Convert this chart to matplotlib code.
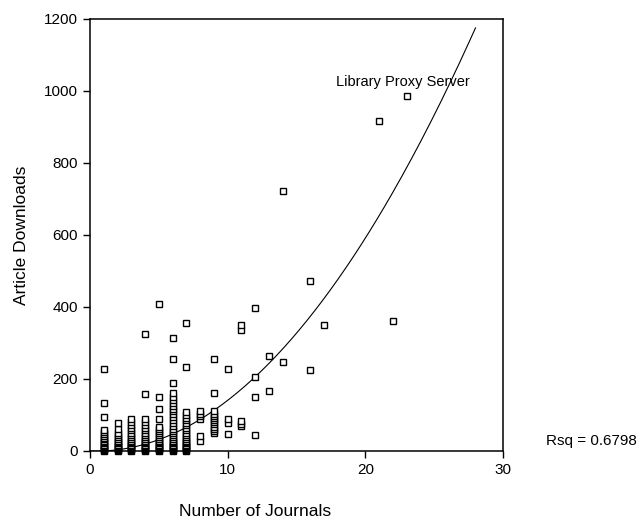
import numpy as np
import matplotlib
matplotlib.use("Agg")
from matplotlib import pyplot as plt

plt.rcParams['font.family'] = ['Liberation Sans', 'DejaVu Sans']

# article downloads per number of journals
col_1 = [0, 3, 6, 9, 12, 15, 18, 21, 25, 29, 33, 37, 42, 47, 52, 58, 94, 134, 228]
col_2 = [0, 3, 6, 9, 12, 15, 18, 21, 25, 29, 33, 38, 44, 50, 62, 78]
col_3 = [0, 3, 6, 9, 12, 15, 18, 21, 25, 29, 33, 38, 44, 50, 57, 65, 72, 80, 90]
col_4 = [0, 3, 6, 9, 12, 15, 18, 21, 25, 29, 33, 38, 44, 50, 57, 65, 72, 80, 88,
         158, 325]
col_5 = [0, 3, 6, 9, 12, 15, 18, 21, 25, 29, 33, 38, 44, 50, 56, 62, 68, 88, 118,
         150, 408]
col_6 = [0, 3, 6, 9, 12, 15, 18, 21, 25, 29, 33, 38, 44, 50, 56, 62, 70, 78, 86,
         94, 102, 110, 118, 126, 134, 142, 150, 160, 188, 255, 314]
col_7 = [0, 3, 6, 9, 12, 15, 18, 21, 25, 29, 33, 38, 44, 50, 57, 64, 71, 78, 85,
         92, 100, 108, 232, 356]
col_8 = [28, 42, 88, 96, 104, 112]
col_9 = [50, 56, 62, 68, 74, 80, 86, 92, 98, 104, 110, 160, 255]
col_10 = [48, 78, 88, 228]
col_11 = [70, 76, 82, 336, 350]
col_12 = [45, 150, 205, 396]
col_13 = [168, 265]
col_14 = [248, 722]
col_16 = [225, 472]
col_17 = [350]
col_21 = [918]
col_22 = [362]
col_23 = [985]

columns = {1: col_1, 2: col_2, 3: col_3, 4: col_4, 5: col_5, 6: col_6, 7: col_7,
           8: col_8, 9: col_9, 10: col_10, 11: col_11, 12: col_12, 13: col_13,
           14: col_14, 16: col_16, 17: col_17, 21: col_21, 22: col_22, 23: col_23}

# quadratic fit, drawn from x=0 to x=28
fit_coef = [1.55, -1.43, 0.0]
fit_range = [0, 28]
rsq_label = "Rsq = 0.6798"
point_label = "Library Proxy Server"


def main():
    journals = []
    downloads = []
    for k, vals in columns.items():
        journals += [k] * len(vals)
        downloads += vals

    fig = plt.figure(figsize=(6.4, 5.23), dpi=100)
    ax = fig.add_axes([90 / 640, 1 - 451 / 523, (503 - 90) / 640, (451 - 19) / 523])

    ax.plot(journals, downloads, linestyle='none', marker='s', markersize=5,
            markerfacecolor='white', markeredgecolor='black', markeredgewidth=1.0,
            clip_on=False, zorder=3)

    xs = np.linspace(fit_range[0], fit_range[1], 200)
    ax.plot(xs, np.polyval(fit_coef, xs), color='black', linewidth=0.8, zorder=2)

    ax.text(17.9, 1026, point_label, fontsize=10.5, ha='left', va='center')

    ax.set_xlim(0, 30)
    ax.set_ylim(0, 1200)
    ax.set_xticks([0, 10, 20, 30])
    ax.set_yticks([0, 200, 400, 600, 800, 1000, 1200])
    ax.tick_params(direction='out', length=5, width=1, labelsize=11, colors='black')
    for side in ['left', 'bottom', 'top', 'right']:
        ax.spines[side].set_linewidth(1.1)

    fig.text(22 / 640, 1 - 235 / 523, "Article Downloads", rotation=90,
             fontsize=12.5, ha='center', va='center')
    fig.text(255 / 640, 1 - 512 / 523, "Number of Journals",
             fontsize=12.5, ha='center', va='center')
    fig.text(637 / 640, 1 - 441 / 523, rsq_label, fontsize=11,
             ha='right', va='center')

    fig.savefig("out.png", dpi=100)


if __name__ == "__main__":
    main()
